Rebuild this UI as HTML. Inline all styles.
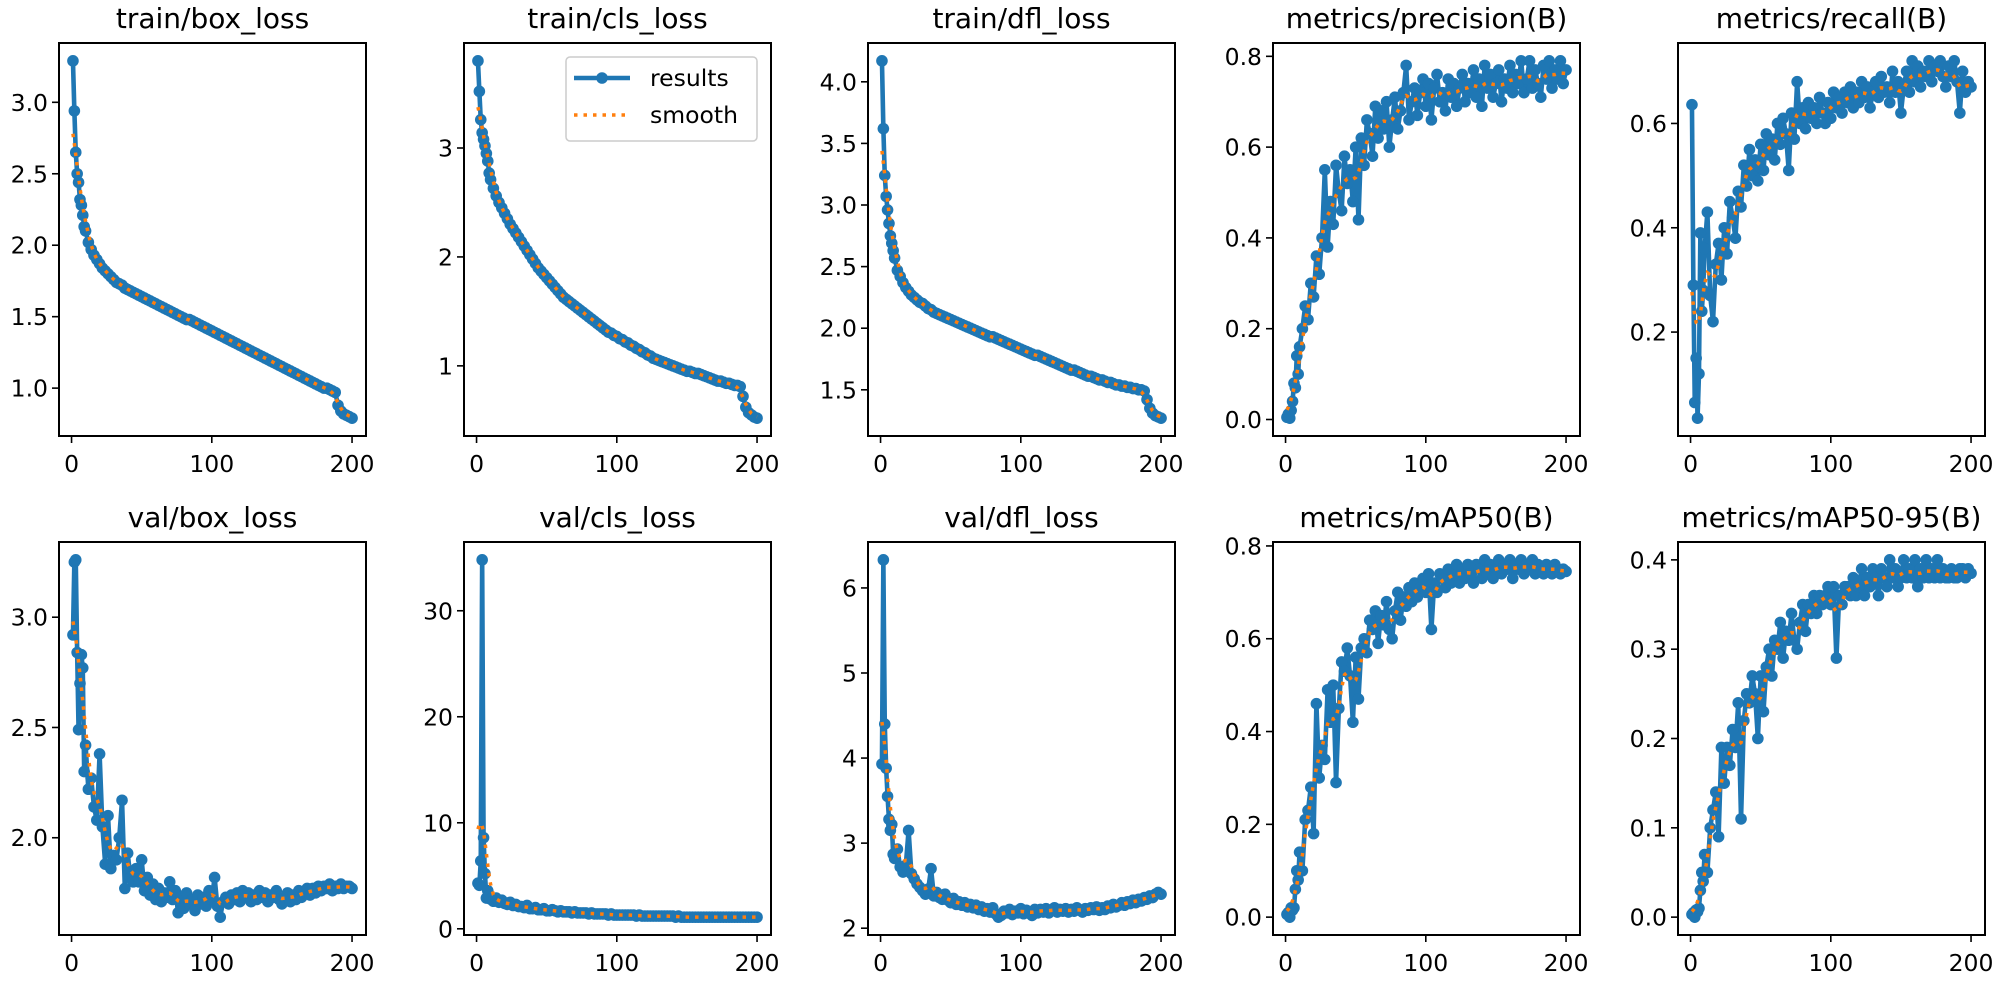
<!DOCTYPE html>
<html><head><meta charset="utf-8"><style>
html,body{margin:0;padding:0;background:#fff;}
svg{display:block;font-family:"DejaVu Sans","Liberation Sans",sans-serif;}
</style></head><body>
<svg id="fig" width="2000" height="982" viewBox="0 0 2000 982"></svg>
<script>
const epochs=[1,2,3,4,5,6,7,8,9,10,12,14,16,18,20,22,24,26,28,30,32,34,36,38,40,42,44,46,48,50,52,54,56,58,60,62,64,66,68,70,72,74,76,78,80,82,84,86,88,90,92,94,96,98,100,102,104,106,108,110,112,114,116,118,120,122,124,126,128,130,132,134,136,138,140,142,144,146,148,150,152,154,156,158,160,162,164,166,168,170,172,174,176,178,180,182,184,186,188,190,192,194,196,198,200];
const trainBox=[3.29,2.94,2.65,2.50,2.44,2.32,2.28,2.21,2.13,2.10,
2.02,1.97,1.93,1.90,1.87,1.84,1.82,1.80,1.78,1.76,
1.74,1.73,1.72,1.70,1.69,1.68,1.67,1.66,1.65,1.64,
1.63,1.62,1.61,1.60,1.59,1.58,1.57,1.56,1.55,1.54,
1.53,1.52,1.51,1.50,1.49,1.48,1.48,1.47,1.46,1.45,
1.44,1.43,1.42,1.41,1.40,1.39,1.38,1.37,1.36,1.35,
1.34,1.33,1.32,1.31,1.30,1.29,1.28,1.27,1.26,1.25,
1.24,1.23,1.22,1.21,1.20,1.19,1.18,1.17,1.16,1.15,
1.14,1.13,1.12,1.11,1.10,1.09,1.08,1.07,1.06,1.05,
1.04,1.03,1.02,1.01,1.00,1.00,0.99,0.98,0.97,0.88,
0.84,0.82,0.81,0.80,0.79];
const trainCls=[3.80,3.52,3.26,3.14,3.08,3.02,2.95,2.88,2.77,2.71,
2.63,2.56,2.50,2.45,2.40,2.35,2.30,2.26,2.22,2.18,
2.14,2.10,2.06,2.02,1.98,1.94,1.90,1.87,1.84,1.81,
1.78,1.75,1.72,1.69,1.66,1.63,1.61,1.59,1.57,1.55,
1.53,1.51,1.49,1.47,1.45,1.43,1.41,1.39,1.37,1.35,
1.33,1.31,1.30,1.28,1.27,1.25,1.24,1.22,1.21,1.19,
1.18,1.16,1.15,1.13,1.12,1.10,1.09,1.07,1.06,1.05,
1.04,1.03,1.02,1.01,1.00,0.99,0.98,0.97,0.96,0.95,
0.95,0.94,0.93,0.93,0.92,0.91,0.90,0.89,0.88,0.87,
0.86,0.86,0.85,0.84,0.84,0.83,0.82,0.82,0.81,0.72,
0.62,0.57,0.55,0.53,0.52];
const trainDfl=[4.17,3.62,3.24,3.07,2.96,2.85,2.75,2.69,2.63,2.57,
2.47,2.42,2.37,2.33,2.30,2.27,2.25,2.23,2.21,2.20,
2.18,2.16,2.15,2.13,2.12,2.11,2.10,2.09,2.08,2.07,
2.06,2.05,2.04,2.03,2.02,2.01,2.00,1.99,1.98,1.97,
1.96,1.95,1.94,1.93,1.93,1.92,1.91,1.90,1.89,1.88,
1.87,1.86,1.85,1.84,1.83,1.82,1.81,1.80,1.79,1.78,
1.78,1.77,1.76,1.75,1.74,1.73,1.72,1.71,1.70,1.69,
1.68,1.67,1.66,1.66,1.65,1.64,1.63,1.62,1.61,1.61,
1.60,1.59,1.58,1.58,1.57,1.56,1.56,1.55,1.54,1.54,
1.53,1.53,1.52,1.52,1.51,1.51,1.50,1.50,1.49,1.42,
1.35,1.31,1.29,1.28,1.27];
const precision=[0.005,0.012,0.003,0.02,0.04,0.08,0.07,0.14,0.10,0.16,
0.20,0.25,0.22,0.30,0.27,0.36,0.32,0.40,0.55,0.38,
0.48,0.43,0.56,0.50,0.46,0.58,0.52,0.55,0.48,0.60,
0.44,0.62,0.56,0.66,0.63,0.58,0.69,0.62,0.68,0.64,
0.70,0.60,0.66,0.71,0.64,0.68,0.72,0.78,0.66,0.70,
0.73,0.67,0.72,0.75,0.69,0.74,0.66,0.73,0.76,0.70,
0.72,0.68,0.75,0.71,0.74,0.69,0.73,0.76,0.70,0.74,
0.72,0.77,0.71,0.75,0.69,0.78,0.73,0.76,0.71,0.74,
0.77,0.70,0.75,0.73,0.78,0.72,0.76,0.74,0.79,0.72,
0.75,0.79,0.73,0.77,0.74,0.71,0.78,0.75,0.79,0.73,
0.77,0.75,0.79,0.74,0.77];
const recall=[0.636,0.29,0.065,0.15,0.035,0.12,0.39,0.24,0.28,0.36,
0.43,0.27,0.22,0.33,0.37,0.30,0.40,0.35,0.45,0.42,
0.38,0.47,0.44,0.52,0.48,0.55,0.50,0.53,0.49,0.56,
0.51,0.58,0.54,0.57,0.53,0.60,0.56,0.61,0.58,0.51,
0.62,0.57,0.68,0.60,0.63,0.59,0.64,0.61,0.63,0.60,
0.65,0.62,0.60,0.64,0.61,0.66,0.63,0.65,0.62,0.66,
0.64,0.67,0.63,0.66,0.64,0.68,0.65,0.67,0.63,0.66,
0.68,0.65,0.69,0.66,0.67,0.64,0.70,0.66,0.68,0.62,
0.67,0.70,0.66,0.72,0.68,0.71,0.67,0.70,0.69,0.72,
0.68,0.71,0.70,0.72,0.69,0.67,0.71,0.69,0.72,0.68,
0.62,0.70,0.66,0.68,0.67];
const valBox=[2.92,3.25,3.26,2.84,2.49,2.70,2.83,2.77,2.30,2.42,
2.22,2.27,2.14,2.08,2.38,2.05,1.88,2.10,1.86,1.92,
1.90,2.00,2.17,1.77,1.93,1.82,1.80,1.86,1.80,1.90,
1.76,1.82,1.74,1.79,1.72,1.77,1.71,1.75,1.73,1.80,
1.72,1.76,1.66,1.73,1.68,1.75,1.70,1.72,1.67,1.74,
1.70,1.73,1.69,1.76,1.72,1.82,1.69,1.64,1.71,1.73,
1.70,1.74,1.72,1.75,1.71,1.76,1.73,1.75,1.71,1.74,
1.72,1.76,1.73,1.75,1.71,1.74,1.73,1.76,1.72,1.70,
1.73,1.75,1.71,1.74,1.72,1.76,1.73,1.75,1.77,1.74,
1.77,1.75,1.78,1.76,1.78,1.77,1.79,1.76,1.78,1.77,
1.79,1.77,1.78,1.78,1.77];
const valCls=[4.3,4.1,6.4,34.8,8.6,5.2,2.9,3.6,3.1,2.8,
2.6,2.9,2.5,2.7,2.4,2.3,2.5,2.2,2.3,2.1,
2.1,2.0,2.2,1.9,1.9,2.0,1.8,1.8,1.9,1.7,
1.7,1.8,1.7,1.6,1.7,1.6,1.6,1.6,1.5,1.6,
1.5,1.5,1.5,1.5,1.4,1.5,1.4,1.4,1.4,1.4,
1.4,1.3,1.4,1.3,1.3,1.3,1.3,1.3,1.3,1.3,
1.3,1.2,1.3,1.2,1.2,1.2,1.2,1.2,1.2,1.2,
1.2,1.2,1.2,1.2,1.2,1.1,1.2,1.1,1.1,1.1,
1.1,1.1,1.1,1.1,1.1,1.1,1.1,1.1,1.1,1.1,
1.1,1.1,1.1,1.1,1.1,1.1,1.1,1.1,1.1,1.1,
1.1,1.1,1.1,1.1,1.1];
const valDfl=[3.93,6.33,4.40,3.88,3.55,3.28,3.15,3.22,2.87,2.82,
2.93,2.72,2.66,2.74,3.15,2.64,2.58,2.52,2.48,2.44,
2.40,2.46,2.70,2.38,2.42,2.36,2.34,2.40,2.33,2.30,
2.35,2.28,2.31,2.27,2.30,2.25,2.28,2.24,2.27,2.22,
2.25,2.20,2.23,2.19,2.24,2.17,2.13,2.15,2.20,2.18,
2.22,2.16,2.20,2.18,2.23,2.17,2.21,2.19,2.15,2.22,
2.18,2.22,2.19,2.23,2.18,2.21,2.24,2.19,2.22,2.20,
2.23,2.19,2.22,2.20,2.24,2.21,2.19,2.23,2.21,2.24,
2.22,2.25,2.21,2.24,2.22,2.26,2.24,2.28,2.25,2.27,
2.30,2.27,2.31,2.29,2.33,2.30,2.34,2.32,2.36,2.34,
2.38,2.36,2.40,2.42,2.40];
const map50=[0.006,0.01,0.0,0.02,0.015,0.02,0.06,0.10,0.08,0.14,
0.10,0.21,0.23,0.28,0.18,0.46,0.30,0.37,0.34,0.49,
0.42,0.50,0.29,0.45,0.55,0.53,0.58,0.52,0.42,0.56,
0.47,0.58,0.60,0.57,0.64,0.62,0.66,0.59,0.65,0.63,
0.68,0.62,0.60,0.66,0.70,0.64,0.69,0.67,0.71,0.68,
0.72,0.69,0.71,0.73,0.70,0.74,0.62,0.72,0.70,0.74,
0.73,0.71,0.75,0.72,0.74,0.76,0.72,0.75,0.73,0.76,
0.74,0.72,0.76,0.75,0.73,0.77,0.74,0.76,0.73,0.75,
0.77,0.74,0.76,0.75,0.77,0.73,0.76,0.75,0.77,0.74,
0.76,0.75,0.77,0.74,0.76,0.75,0.74,0.76,0.75,0.74,
0.76,0.75,0.74,0.75,0.745];
const map5095=[0.003,0.005,0.0,0.008,0.006,0.01,0.03,0.05,0.04,0.07,
0.05,0.10,0.12,0.14,0.09,0.19,0.15,0.19,0.17,0.21,
0.19,0.24,0.11,0.22,0.25,0.24,0.27,0.25,0.20,0.27,
0.23,0.28,0.30,0.27,0.31,0.30,0.33,0.29,0.32,0.31,
0.34,0.31,0.30,0.33,0.35,0.32,0.35,0.34,0.36,0.34,
0.36,0.35,0.36,0.37,0.35,0.37,0.29,0.36,0.35,0.37,
0.37,0.36,0.38,0.36,0.37,0.39,0.36,0.38,0.37,0.39,
0.38,0.36,0.39,0.38,0.37,0.40,0.38,0.39,0.37,0.38,
0.40,0.38,0.39,0.38,0.40,0.37,0.39,0.38,0.40,0.38,
0.39,0.38,0.40,0.38,0.39,0.38,0.38,0.39,0.38,0.38,
0.39,0.39,0.38,0.39,0.385];
const xTicks=[0,100,200];
const titles=["train/box_loss","train/cls_loss","train/dfl_loss","metrics/precision(B)","metrics/recall(B)","val/box_loss","val/cls_loss","val/dfl_loss","metrics/mAP50(B)","metrics/mAP50-95(B)"];
const seriesList=[trainBox,trainCls,trainDfl,precision,recall,valBox,valCls,valDfl,map50,map5095];
const yTickSets=[[1.0,1.5,2.0,2.5,3.0],[1,2,3],[1.5,2.0,2.5,3.0,3.5,4.0],[0.0,0.2,0.4,0.6,0.8],[0.2,0.4,0.6],[2.0,2.5,3.0],[0,10,20,30],[2,3,4,5,6],[0.0,0.2,0.4,0.6,0.8],[0.0,0.1,0.2,0.3,0.4]];
const yTickDecimals=[1,0,1,1,1,1,0,0,1,1];

const NS="http://www.w3.org/2000/svg";
const fig=document.getElementById('fig');
function mk(tag,attrs,parent){const e=document.createElementNS(NS,tag);for(const k in attrs)e.setAttribute(k,attrs[k]);(parent||fig).appendChild(e);return e;}
const colLeft=[59,464,868,1273,1678], rowTop=[43,542], W=307, H=393;
const BLUE="#1f77b4", ORANGE="#ff7f0e";

function smooth(xs,ys){
  return ys.map((_,i)=>{let s=0,w=0;for(let j=0;j<ys.length;j++){const d=xs[j]-xs[i];const k=Math.exp(-d*d/18);s+=k*ys[j];w+=k;}return s/w;});
}

seriesList.forEach((ys,idx)=>{
  const L=colLeft[idx%5], T=rowTop[Math.floor(idx/5)];
  const g=mk('g',{});
  
  
  const xmin=Math.min(...epochs), xmax=Math.max(...epochs), xr=xmax-xmin;
  const x0=xmin-0.05*xr, x1=xmax+0.05*xr;
  const ymin=Math.min(...ys), ymax=Math.max(...ys), yr=ymax-ymin;
  const y0=ymin-0.05*yr, y1=ymax+0.05*yr;
  const sx=v=>L+(v-x0)/(x1-x0)*W;
  const sy=v=>T+H-(v-y0)/(y1-y0)*H;
  const clipId='clip'+idx;
  const cp=mk('clipPath',{id:clipId},g);
  mk('rect',{x:L,y:T,width:W,height:H},cp);
  const plot=mk('g',{'clip-path':'url(#'+clipId+')'},g);
  const pts=epochs.map((e,i)=>sx(e).toFixed(2)+','+sy(ys[i]).toFixed(2)).join(' ');
  const line=mk('polyline',{points:pts,fill:'none',stroke:BLUE,'stroke-width':4.6,'stroke-linejoin':'round'},plot);
  
  
  epochs.forEach((e,i)=>{
    const c=mk('circle',{cx:sx(e).toFixed(2),cy:sy(ys[i]).toFixed(2),r:5.8,fill:BLUE},plot);
    
    
  });
  const sm=smooth(epochs,ys);
  const spts=epochs.map((e,i)=>sx(e).toFixed(2)+','+sy(sm[i]).toFixed(2)).join(' ');
  const sl=mk('polyline',{points:spts,fill:'none',stroke:ORANGE,'stroke-width':3.5,'stroke-dasharray':'3.5 6'},plot);
  
  
  const fr=mk('rect',{x:L,y:T,width:W,height:H,fill:'none',stroke:'#000','stroke-width':2},g);
  
  
  xTicks.forEach(t=>{
    const x=sx(t);
    mk('line',{x1:x,y1:T+H,x2:x,y2:T+H+7,stroke:'#000','stroke-width':1.6},g);
    const tx=mk('text',{x:x,y:T+H+36,'font-size':23.5,'text-anchor':'middle',fill:'#000'},g);
    tx.textContent=t;
    
    
  });
  yTickSets[idx].forEach(t=>{
    const y=sy(t);
    mk('line',{x1:L-7,y1:y,x2:L,y2:y,stroke:'#000','stroke-width':1.6},g);
    const ty=mk('text',{x:L-11,y:y+8.5,'font-size':23.5,'text-anchor':'end',fill:'#000'},g);
    ty.textContent=t.toFixed(yTickDecimals[idx]);
    
    
  });
  const tt=mk('text',{x:L+W/2,y:T-15,'font-size':28,'text-anchor':'middle',fill:'#000'},g);
  tt.textContent=titles[idx];
  
  
});

const lg=mk('g',{});


mk('rect',{x:566,y:57,width:191,height:84,rx:4,fill:'#fff','fill-opacity':0.8,stroke:'#cccccc','stroke-width':1.5},lg);
mk('line',{x1:574,y1:78,x2:630,y2:78,stroke:BLUE,'stroke-width':4.6},lg);
mk('circle',{cx:602,cy:78,r:5.8,fill:BLUE},lg);
const t1=mk('text',{x:650,y:86,'font-size':23.5,fill:'#000'},lg);
t1.textContent='results';


mk('line',{x1:574,y1:115,x2:630,y2:115,stroke:ORANGE,'stroke-width':3.5,'stroke-dasharray':'3.5 6'},lg);
const t2=mk('text',{x:650,y:123,'font-size':23.5,fill:'#000'},lg);
t2.textContent='smooth';


</script>
</body></html>
